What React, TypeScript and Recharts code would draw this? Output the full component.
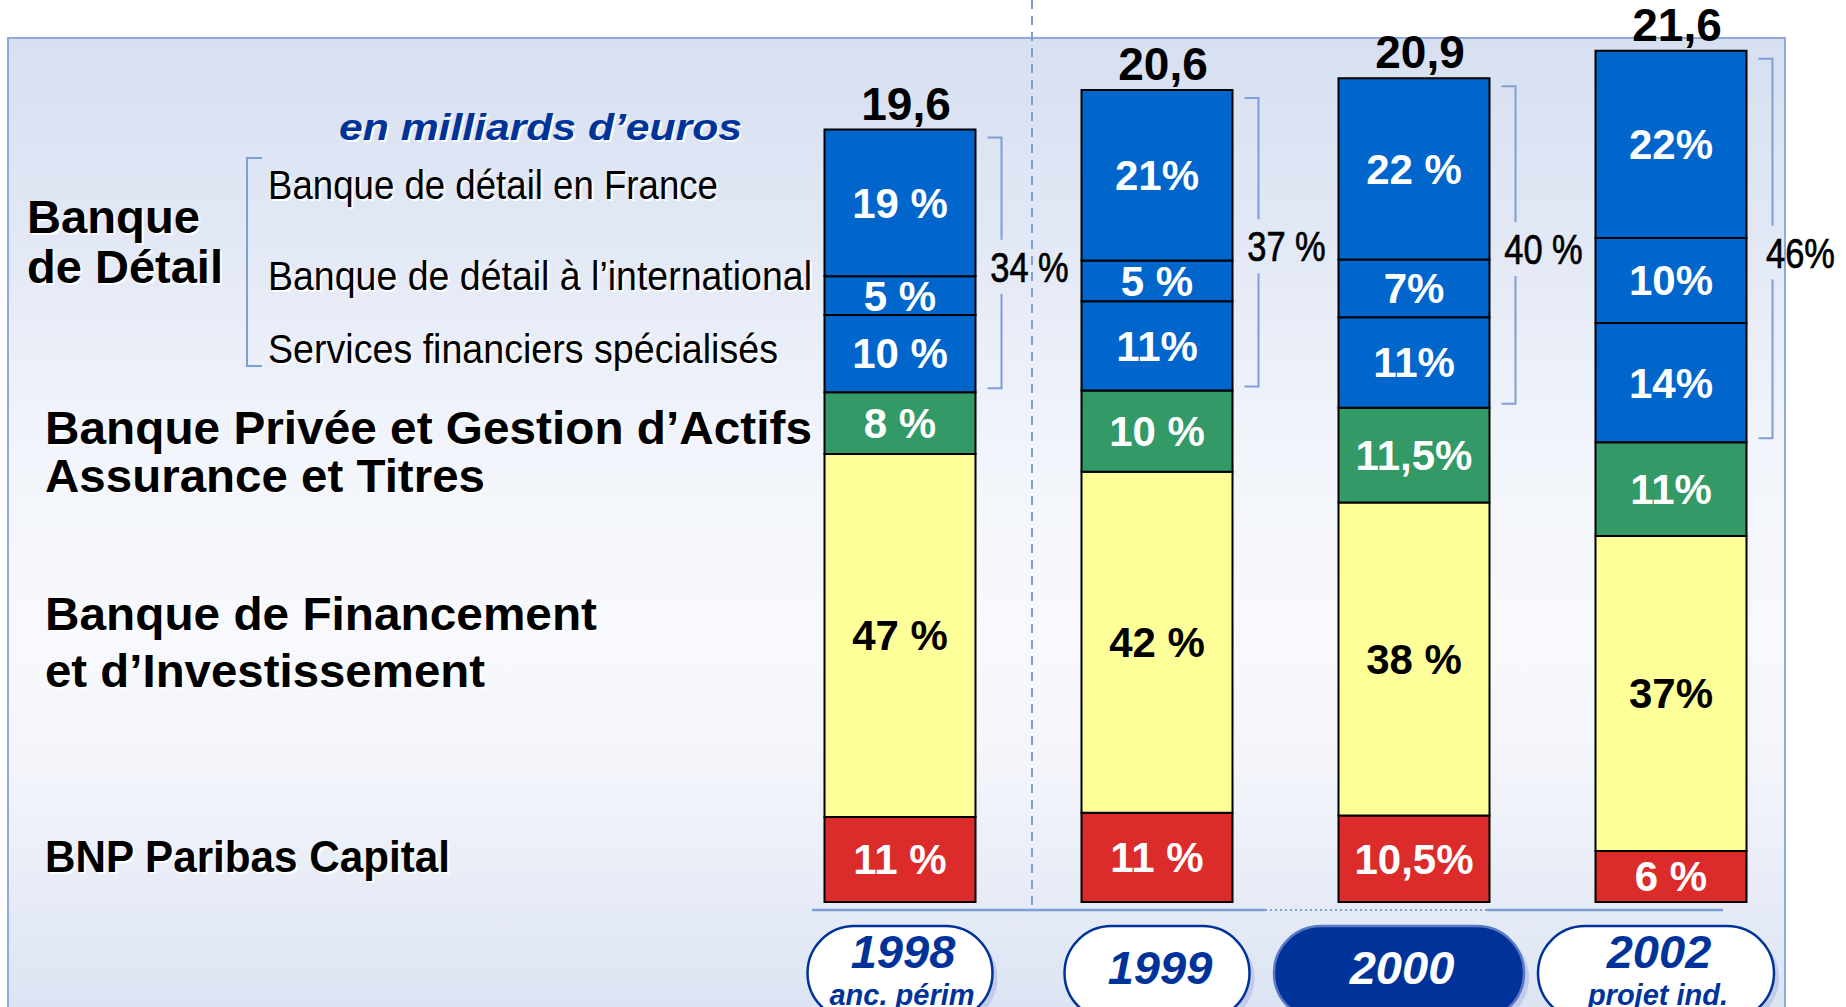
import React from 'react';
import { BarChart, Bar, XAxis, YAxis, LabelList } from 'recharts';

const FONT = '"Liberation Sans", Arial, sans-serif';
const NAVY = '#003399';
const RULE = '#7f9ed8';

// years on the axis, with the small note under some of them
const years = ['1998', '1999', '2000', '2002'];
const yearNotes = ['anc. périm', '', '', 'projet ind.'];

// total in billions of euros
const totals = [19.6, 20.6, 20.9, 21.6];
const totalLabels = ['19,6', '20,6', '20,9', '21,6'];

// share of each business line, in %
const franceShare = [19, 21, 22, 22];
const intlShare = [5, 5, 7, 10];
const sfsShare = [10, 11, 11, 14];
const privateShare = [8, 10, 11.5, 11];
const cibShare = [47, 42, 38, 37];
const capitalShare = [11, 11, 10.5, 6];

// labels as printed on the slide
const franceLabels = ['19 %', '21%', '22 %', '22%'];
const intlLabels = ['5 %', '5 %', '7%', '10%'];
const sfsLabels = ['10 %', '11%', '11%', '14%'];
const privateLabels = ['8 %', '10 %', '11,5%', '11%'];
const cibLabels = ['47 %', '42 %', '38 %', '37%'];
const capitalLabels = ['11 %', '11 %', '10,5%', '6 %'];
const retailLabels = ['34 %', '37 %', '40 %', '46%'];

const rows = years.map((year, i) => ({
  year,
  capital: (totals[i] * capitalShare[i]) / 100,
  cib: (totals[i] * cibShare[i]) / 100,
  priv: (totals[i] * privateShare[i]) / 100,
  sfs: (totals[i] * sfsShare[i]) / 100,
  intl: (totals[i] * intlShare[i]) / 100,
  france: (totals[i] * franceShare[i]) / 100,
  capitalLbl: capitalLabels[i],
  cibLbl: cibLabels[i],
  privLbl: privateLabels[i],
  sfsLbl: sfsLabels[i],
  intlLbl: intlLabels[i],
  franceLbl: franceLabels[i],
}));

const segLabel = { fontSize: 42, fontWeight: 'bold', fontFamily: FONT } as const;

// bracket with the retail total, plus the overall total above the bar
const TopLabels = (props: any) => {
  const vb = props.viewBox ?? props;
  const row = rows[props.index];
  const h = Math.abs(vb.height);
  const y = vb.height < 0 ? vb.y + vb.height : vb.y;
  const ppu = h / row.france;
  const top = y + 8;
  const bottom = y + (row.france + row.intl + row.sfs) * ppu - 4;
  const lx = vb.x + vb.width + 26;
  const mid = (top + bottom) / 2 + 4;
  return (
    <g>
      <polyline points={`${lx - 14},${top} ${lx},${top} ${lx},${mid - 27}`} fill="none" stroke={RULE} strokeWidth={2} />
      <polyline points={`${lx},${mid + 27} ${lx},${bottom} ${lx - 14},${bottom}`} fill="none" stroke={RULE} strokeWidth={2} />
      <text
        transform={`translate(${lx + 28},${mid + 15}) scale(0.82,1)`}
        textAnchor="middle"
        fontSize={42}
        fontFamily={FONT}
        fill="#000"
        stroke="#000"
        strokeWidth={0.7}
      >
        {retailLabels[props.index]}
      </text>
      <text x={vb.x + vb.width / 2 + 6} y={y - 10} textAnchor="middle" fontSize={46} fontWeight="bold" fontFamily={FONT} fill="#000">
        {totalLabels[props.index]}
      </text>
    </g>
  );
};

const PillTick = (props: any) => {
  const { x, y, payload } = props;
  const i = payload.index;
  const active = i === 2;
  const note = yearNotes[i];
  const w = active ? 250 : i === 3 ? 236 : 185;
  const cx = x + (i >= 2 ? -15 : 0);
  const top = y + 24;
  const h = 94;
  const color = active ? '#fff' : NAVY;
  return (
    <g>
      <rect x={cx - w / 2 + 5} y={top + 5} width={w} height={h} rx={h / 2} fill="#c3cbec" />
      <rect
        x={cx - w / 2}
        y={top}
        width={w}
        height={h}
        rx={h / 2}
        fill={active ? NAVY : '#fff'}
        stroke={active ? '#5a78c4' : NAVY}
        strokeWidth={2.5}
      />
      <text
        x={cx + 3}
        y={note ? top + 42 : top + 58}
        textAnchor="middle"
        fontSize={47}
        fontWeight="bold"
        fontStyle="italic"
        fontFamily={FONT}
        fill={color}
      >
        {payload.value}
      </text>
      {note && (
        <text x={cx + 2} y={top + 79} textAnchor="middle" fontSize={29} fontWeight="bold" fontStyle="italic" fontFamily={FONT} fill={color}>
          {note}
        </text>
      )}
    </g>
  );
};

const ShadowText = ({ x, y, len, size, bold, italic, fill = '#000', children }: any) => {
  const common = {
    fontSize: size,
    fontWeight: bold ? 'bold' : 'normal',
    fontStyle: italic ? 'italic' : 'normal',
    fontFamily: FONT,
    textLength: len,
    lengthAdjust: 'spacingAndGlyphs',
  } as any;
  return (
    <g>
      <text x={x + 2} y={y + 2} fill="#fff" {...common}>{children}</text>
      <text x={x} y={y} fill={fill} {...common}>{children}</text>
    </g>
  );
};

export default function App() {
  return (
    <div style={{ position: 'absolute', left: 0, top: 0, width: 1846, height: 1007, overflow: 'hidden', background: '#fff' }}>
      <div
        style={{
          position: 'absolute',
          left: 7,
          top: 37,
          width: 1775,
          height: 1000,
          border: '2px solid #8eaadc',
          borderBottom: 'none',
          background:
            'linear-gradient(to bottom, #d7e0f1 0px, #e2e8f5 200px, #f2f5fb 420px, #f8f9fd 600px, #f3f5fb 730px, #e6ebf6 860px, #dce4f3 970px)',
        }}
      />
      <div style={{ position: 'absolute', left: 0, top: 0 }}>
        <BarChart width={1846} height={1007} data={rows} margin={{ top: 31, right: 46.5, bottom: 0, left: 771.5 }} barSize={151}>
          <YAxis hide domain={[0, 22.1]} />
          <XAxis dataKey="year" height={105} axisLine={false} tickLine={false} tickSize={0} tickMargin={0} interval={0} tick={<PillTick />} />
          <Bar dataKey="capital" stackId="a" fill="#dc2b2b" stroke="#000" strokeWidth={2} isAnimationActive={false}>
            <LabelList dataKey="capitalLbl" position="center" fill="#fff" {...segLabel} />
          </Bar>
          <Bar dataKey="cib" stackId="a" fill="#ffff99" stroke="#000" strokeWidth={2} isAnimationActive={false}>
            <LabelList dataKey="cibLbl" position="center" fill="#000" {...segLabel} />
          </Bar>
          <Bar dataKey="priv" stackId="a" fill="#339966" stroke="#000" strokeWidth={2} isAnimationActive={false}>
            <LabelList dataKey="privLbl" position="center" fill="#fff" {...segLabel} />
          </Bar>
          <Bar dataKey="sfs" stackId="a" fill="#0066cc" stroke="#000" strokeWidth={2} isAnimationActive={false}>
            <LabelList dataKey="sfsLbl" position="center" fill="#fff" {...segLabel} />
          </Bar>
          <Bar dataKey="intl" stackId="a" fill="#0066cc" stroke="#000" strokeWidth={2} isAnimationActive={false}>
            <LabelList dataKey="intlLbl" position="center" fill="#fff" {...segLabel} />
          </Bar>
          <Bar dataKey="france" stackId="a" fill="#0066cc" stroke="#000" strokeWidth={2} isAnimationActive={false}>
            <LabelList dataKey="franceLbl" position="center" fill="#fff" {...segLabel} />
            <LabelList dataKey="france" content={TopLabels} />
          </Bar>
        </BarChart>
      </div>
      <svg width={1846} height={1007} style={{ position: 'absolute', left: 0, top: 0, pointerEvents: 'none' }}>
        <line x1={1032} y1={0} x2={1032} y2={910} stroke={RULE} strokeWidth={2} strokeDasharray="9 7" />
        <line x1={812} y1={910} x2={1265} y2={910} stroke={RULE} strokeWidth={2.5} />
        <line x1={1265} y1={910} x2={1487} y2={910} stroke={RULE} strokeWidth={2} strokeDasharray="2 3" />
        <line x1={1487} y1={910} x2={1723} y2={910} stroke={RULE} strokeWidth={2.5} />
        <path d="M262,158 H247 V366 H262" fill="none" stroke={RULE} strokeWidth={2} />

        <ShadowText x={339} y={140} len={403} size={37} bold italic fill={NAVY}>en milliards d’euros</ShadowText>
        <ShadowText x={27} y={233} len={173} size={46} bold>Banque</ShadowText>
        <ShadowText x={27} y={283} len={196} size={46} bold>de Détail</ShadowText>
        <ShadowText x={268} y={199} len={450} size={41}>Banque de détail en France</ShadowText>
        <ShadowText x={268} y={290} len={544} size={41}>Banque de détail à l’international</ShadowText>
        <ShadowText x={268} y={363} len={510} size={41}>Services financiers spécialisés</ShadowText>
        <ShadowText x={45} y={444} len={767} size={46} bold>Banque Privée et Gestion d’Actifs</ShadowText>
        <ShadowText x={45} y={492} len={440} size={46} bold>Assurance et Titres</ShadowText>
        <ShadowText x={45} y={630} len={552} size={46} bold>Banque de Financement</ShadowText>
        <ShadowText x={45} y={687} len={440} size={46} bold>et d’Investissement</ShadowText>
        <ShadowText x={45} y={872} len={405} size={44} bold>BNP Paribas Capital</ShadowText>
      </svg>
    </div>
  );
}
